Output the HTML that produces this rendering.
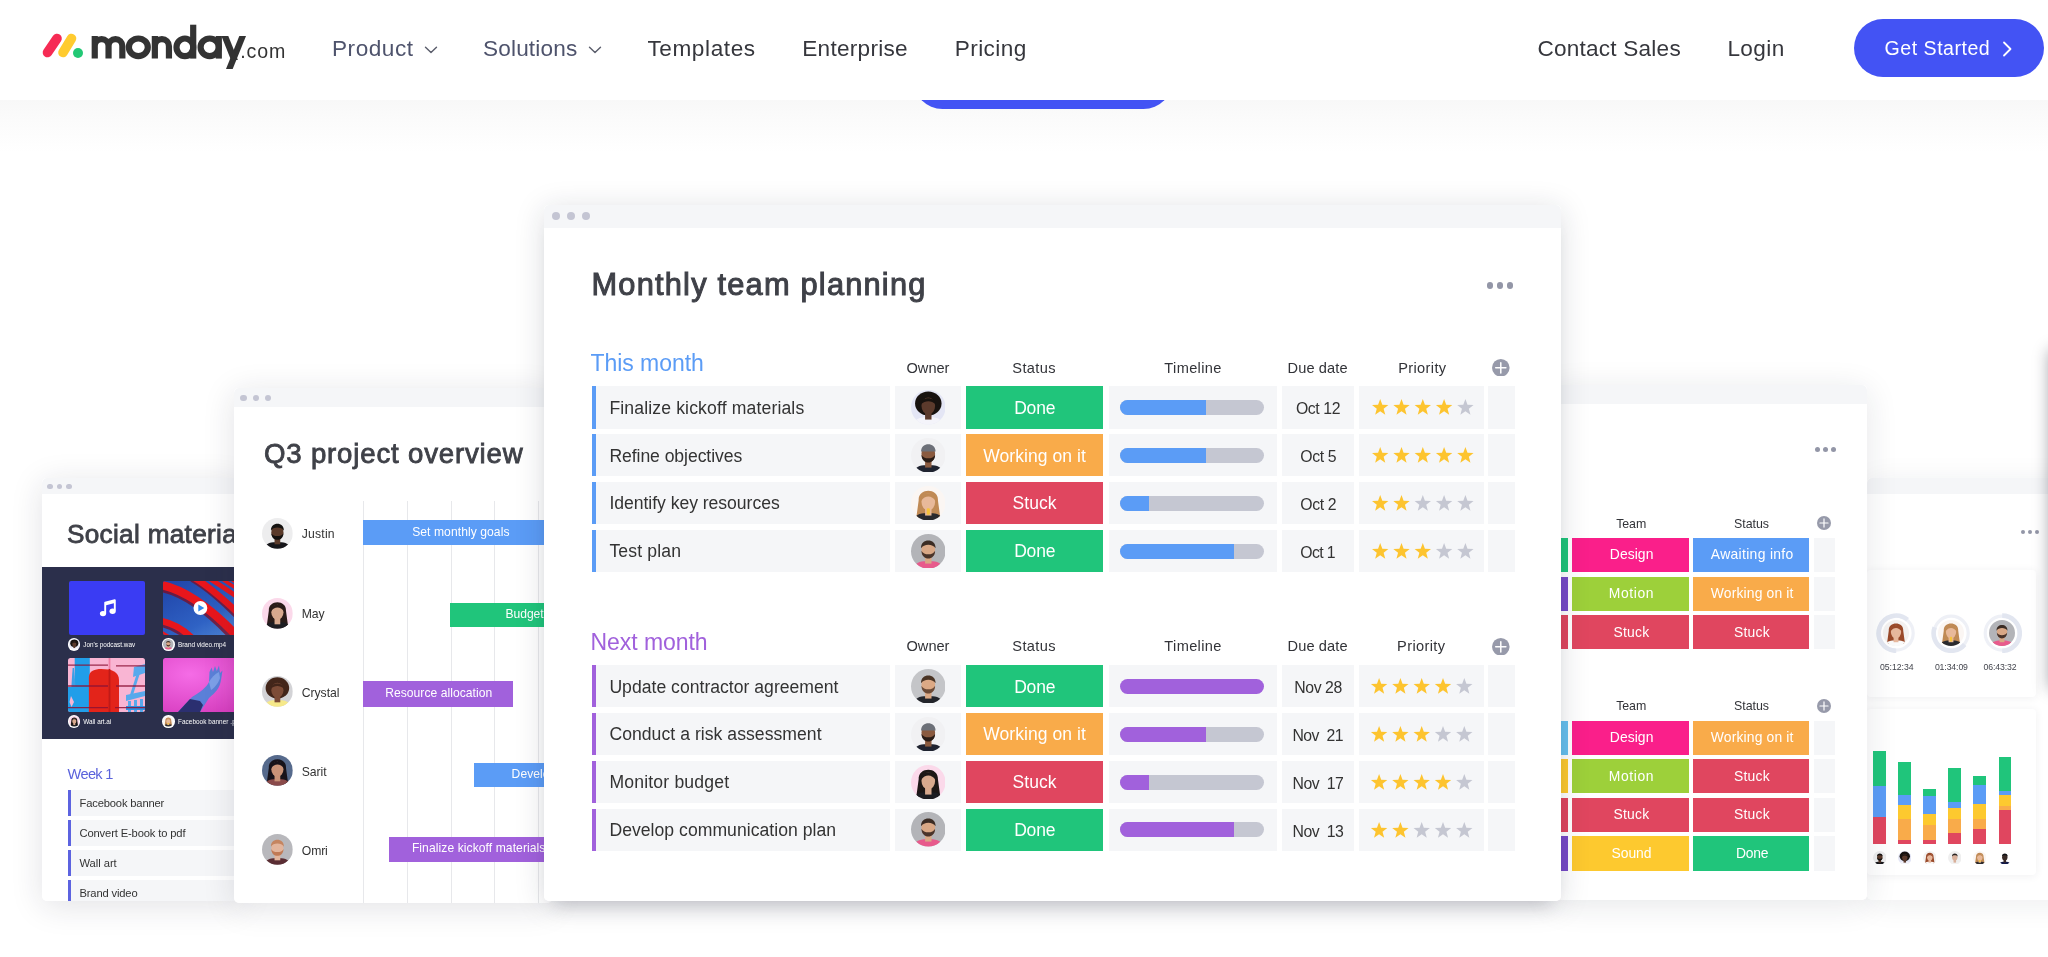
<!DOCTYPE html><html><head><meta charset="utf-8"><title>monday.com</title><style>
*{box-sizing:border-box;margin:0;padding:0}
html,body{width:2048px;height:957px;overflow:hidden;background:#fff}
body{font-family:"Liberation Sans",sans-serif;color:#333;-webkit-font-smoothing:antialiased}
#stage{will-change:transform;position:relative;width:2048px;height:957px;overflow:hidden;background:#fff}
.abs{position:absolute}
.t{position:absolute;white-space:nowrap;line-height:1}
#hero{position:absolute;left:0;top:100px;width:2048px;height:857px;
 background:linear-gradient(to bottom,#f8f8f8 0px,#fbfbfb 20px,#ffffff 52px)}
#nav{position:absolute;left:0;top:0;width:2048px;height:100px;background:#fff;z-index:50}
.nl{position:absolute;white-space:nowrap;line-height:1;font-size:23px;color:#323338;top:37px}
.card{position:absolute;border-radius:5px;box-shadow:0 5px 34px rgba(30,34,54,.19),0 0 2px rgba(30,34,54,.05)}
.card>.in{position:absolute;left:0;top:0;right:0;bottom:0;background:#fff;border-radius:5px;overflow:hidden}
.bar{position:absolute;left:0;top:0;right:0;background:#f5f6f8;border-radius:5px 5px 0 0}
.dot{position:absolute;border-radius:50%;background:#c4c5d3}
.cell{position:absolute;background:#f5f6f8}
.st{position:absolute;color:#fff;text-align:center;white-space:nowrap}
.hd{position:absolute;white-space:nowrap;line-height:1;color:#323338;text-align:center}
</style></head><body><div id="stage">
<div id="hero"></div>
<div class="abs" style="left:913px;top:50px;width:260px;height:58.5px;border-radius:30px;background:#4353f4"></div>
<div class="card" style="left:1867px;top:478px;width:300px;height:422px;z-index:1;box-shadow:0 4px 30px rgba(30,34,54,.08)"><div class="in">
<div class="bar" style="height:16px"></div>
<div class="abs" style="left:154.0px;top:51.6px;width:4.3px;height:4.3px;background:#9396a7;border-radius:50%"></div>
<div class="abs" style="left:160.9px;top:51.6px;width:4.3px;height:4.3px;background:#9396a7;border-radius:50%"></div>
<div class="abs" style="left:167.8px;top:51.6px;width:4.3px;height:4.3px;background:#9396a7;border-radius:50%"></div>
<div class="abs" style="left:0.0px;top:92.0px;width:168.5px;height:127.0px;background:#fff;border-radius:4px;box-shadow:0 1px 8px rgba(40,44,60,.07)"></div>
<div class="abs" style="left:0.0px;top:230.8px;width:168.5px;height:166.7px;background:#fff;border-radius:4px;box-shadow:0 1px 8px rgba(40,44,60,.07)"></div>
<svg class="abs" style="left:8.8px;top:134.5px" width="40.4" height="40.4" viewBox="0 0 40.4 40.4"><circle cx="20.2" cy="20.2" r="17.0" fill="none" stroke="#eef0f6" stroke-width="3.2"/><path d="M20.20 37.80 A17.6 17.6 0 1 1 31.51 6.72" fill="none" stroke="#e2e6f0" stroke-width="4.6"/></svg>
<svg class="abs" style="left:16.0px;top:141.7px" width="26.0" height="26.0" viewBox="-50 -50 100 100"><defs><clipPath id="c1"><circle r="50"/></clipPath></defs><g clip-path="url(#c1)"><rect x="-50" y="-50" width="100" height="100" fill="#f3f1f0"/><g transform="translate(0,3) scale(1.16)"><path d="M-24 -10 C-26 -42 26 -42 24 -10 L30 34 L-30 34 Z" fill="#9a4a2a"/><path d="M-40 52 C-38 22 -18 22 0 22 C18 22 38 22 40 52 Z" fill="#fafafa"/><rect x="-8" y="8" width="16" height="20" fill="#e7b89d"/><ellipse cx="0" cy="-6" rx="17" ry="21" fill="#e7b89d"/><path d="M-18 -8 C-20 -34 20 -34 18 -8 C10 -22 -8 -24 -18 -8 Z" fill="#9a4a2a"/></g></g></svg>
<div class="t" style="left:13.0px;top:185.4px;font-size:8.7px;letter-spacing:-0.03px;color:#43454d;">05:12:34</div>
<svg class="abs" style="left:64.1px;top:134.5px" width="40.4" height="40.4" viewBox="0 0 40.4 40.4"><circle cx="20.2" cy="20.2" r="17.0" fill="none" stroke="#eef0f6" stroke-width="3.2"/><path d="M33.68 31.51 A17.6 17.6 0 0 1 3.66 14.18" fill="none" stroke="#e2e6f0" stroke-width="4.6"/></svg>
<svg class="abs" style="left:71.3px;top:141.7px" width="26.0" height="26.0" viewBox="-50 -50 100 100"><defs><clipPath id="c2"><circle r="50"/></clipPath></defs><g clip-path="url(#c2)"><rect x="-50" y="-50" width="100" height="100" fill="#fbf6f3"/><g transform="translate(0,3) scale(1.16)"><path d="M-24 -10 C-26 -42 26 -42 24 -10 L30 34 L-30 34 Z" fill="#c08a55"/><path d="M-40 52 C-38 22 -18 22 0 22 C18 22 38 22 40 52 Z" fill="#2a2a2e"/><rect x="-8" y="8" width="16" height="20" fill="#e8b99a"/><ellipse cx="0" cy="-6" rx="17" ry="21" fill="#e8b99a"/><path d="M-18 -8 C-20 -34 20 -34 18 -8 C10 -22 -8 -24 -18 -8 Z" fill="#c08a55"/><rect x="-4" y="10" width="8" height="16" rx="3" fill="#f6c33a"/></g></g></svg>
<div class="t" style="left:67.9px;top:185.4px;font-size:8.7px;letter-spacing:-0.11px;color:#43454d;">01:34:09</div>
<svg class="abs" style="left:114.8px;top:134.5px" width="40.4" height="40.4" viewBox="0 0 40.4 40.4"><circle cx="20.2" cy="20.2" r="17.0" fill="none" stroke="#eef0f6" stroke-width="3.2"/><path d="M20.20 2.60 A17.6 17.6 0 0 1 20.20 37.80" fill="none" stroke="#e2e6f0" stroke-width="4.6"/></svg>
<svg class="abs" style="left:122.0px;top:141.7px" width="26.0" height="26.0" viewBox="-50 -50 100 100"><defs><clipPath id="c3"><circle r="50"/></clipPath></defs><g clip-path="url(#c3)"><rect x="-50" y="-50" width="100" height="100" fill="#b3b4b8"/><g transform="translate(0,3) scale(1.16)"><path d="M-40 52 C-38 22 -18 22 0 22 C18 22 38 22 40 52 Z" fill="#e85a8c"/><rect x="-8" y="8" width="16" height="20" fill="#d9a886"/><ellipse cx="0" cy="-6" rx="17" ry="21" fill="#d9a886"/><path d="M-17 -4 C-17 22 17 22 17 -4 C12 8 -12 8 -17 -4 Z" fill="#4a342a"/><path d="M-18 -10 C-20 -36 20 -36 18 -10 C12 -22 -12 -22 -18 -10 Z" fill="#3b2c24"/></g></g></svg>
<div class="t" style="left:116.6px;top:185.4px;font-size:8.7px;letter-spacing:-0.11px;color:#43454d;">06:43:32</div>
<div class="abs" style="left:6.3px;top:272.5px;width:12.3px;height:35.7px;background:#20c57b;"></div>
<div class="abs" style="left:6.3px;top:308.2px;width:12.3px;height:30.5px;background:#5b9cf6;"></div>
<div class="abs" style="left:6.3px;top:338.7px;width:12.3px;height:27.1px;background:#e0465f;"></div>
<svg class="abs" style="left:5.7px;top:372.8px" width="13.6" height="13.6" viewBox="-50 -50 100 100"><defs><clipPath id="c4"><circle r="50"/></clipPath></defs><g clip-path="url(#c4)"><rect x="-50" y="-50" width="100" height="100" fill="#ededee"/><g transform="translate(0,3) scale(1.16)"><path d="M-40 52 C-38 22 -18 22 0 22 C18 22 38 22 40 52 Z" fill="#16161a"/><rect x="-8" y="8" width="16" height="20" fill="#5a3a2a"/><ellipse cx="0" cy="-6" rx="17" ry="21" fill="#5a3a2a"/><path d="M-17 -4 C-17 22 17 22 17 -4 C12 8 -12 8 -17 -4 Z" fill="#141210"/><path d="M-18 -10 C-20 -36 20 -36 18 -10 C12 -22 -12 -22 -18 -10 Z" fill="#141210"/></g></g></svg>
<div class="abs" style="left:31.3px;top:283.6px;width:12.3px;height:33.4px;background:#20c57b;"></div>
<div class="abs" style="left:31.3px;top:317.0px;width:12.3px;height:10.2px;background:#5b9cf6;"></div>
<div class="abs" style="left:31.3px;top:327.2px;width:12.3px;height:13.5px;background:#fdc92f;"></div>
<div class="abs" style="left:31.3px;top:340.7px;width:12.3px;height:21.1px;background:#f9ab4a;"></div>
<div class="abs" style="left:31.3px;top:361.8px;width:12.3px;height:4.0px;background:#e0465f;"></div>
<svg class="abs" style="left:30.7px;top:372.8px" width="13.6" height="13.6" viewBox="-50 -50 100 100"><defs><clipPath id="c5"><circle r="50"/></clipPath></defs><g clip-path="url(#c5)"><rect x="-50" y="-50" width="100" height="100" fill="#e4e6f5"/><g transform="translate(0,3) scale(1.16)"><ellipse cx="0" cy="-12" rx="33" ry="30" fill="#17120f"/><path d="M-40 52 C-38 22 -18 22 0 22 C18 22 38 22 40 52 Z" fill="#f4f4fa"/><rect x="-8" y="8" width="16" height="20" fill="#5b3a2c"/><ellipse cx="0" cy="-6" rx="17" ry="21" fill="#5b3a2c"/><path d="M-18 -10 C-18 -30 18 -30 18 -10 C8 -20 -8 -20 -18 -10 Z" fill="#17120f"/></g></g></svg>
<div class="abs" style="left:56.3px;top:311.0px;width:12.3px;height:7.0px;background:#20c57b;"></div>
<div class="abs" style="left:56.3px;top:318.0px;width:12.3px;height:18.4px;background:#5b9cf6;"></div>
<div class="abs" style="left:56.3px;top:336.4px;width:12.3px;height:10.3px;background:#fdc92f;"></div>
<div class="abs" style="left:56.3px;top:346.7px;width:12.3px;height:15.1px;background:#f9ab4a;"></div>
<div class="abs" style="left:56.3px;top:361.8px;width:12.3px;height:4.0px;background:#e0465f;"></div>
<svg class="abs" style="left:55.7px;top:372.8px" width="13.6" height="13.6" viewBox="-50 -50 100 100"><defs><clipPath id="c6"><circle r="50"/></clipPath></defs><g clip-path="url(#c6)"><rect x="-50" y="-50" width="100" height="100" fill="#f3f1f0"/><g transform="translate(0,3) scale(1.16)"><path d="M-24 -10 C-26 -42 26 -42 24 -10 L30 34 L-30 34 Z" fill="#9a4a2a"/><path d="M-40 52 C-38 22 -18 22 0 22 C18 22 38 22 40 52 Z" fill="#fafafa"/><rect x="-8" y="8" width="16" height="20" fill="#e7b89d"/><ellipse cx="0" cy="-6" rx="17" ry="21" fill="#e7b89d"/><path d="M-18 -8 C-20 -34 20 -34 18 -8 C10 -22 -8 -24 -18 -8 Z" fill="#9a4a2a"/></g></g></svg>
<div class="abs" style="left:81.3px;top:290.3px;width:12.3px;height:33.7px;background:#20c57b;"></div>
<div class="abs" style="left:81.3px;top:324.0px;width:12.3px;height:6.4px;background:#5b9cf6;"></div>
<div class="abs" style="left:81.3px;top:330.4px;width:12.3px;height:10.3px;background:#fdc92f;"></div>
<div class="abs" style="left:81.3px;top:340.7px;width:12.3px;height:13.9px;background:#f9ab4a;"></div>
<div class="abs" style="left:81.3px;top:354.6px;width:12.3px;height:11.2px;background:#e0465f;"></div>
<svg class="abs" style="left:80.7px;top:372.8px" width="13.6" height="13.6" viewBox="-50 -50 100 100"><defs><clipPath id="c7"><circle r="50"/></clipPath></defs><g clip-path="url(#c7)"><rect x="-50" y="-50" width="100" height="100" fill="#efefef"/><g transform="translate(0,3) scale(1.16)"><path d="M-40 52 C-38 22 -18 22 0 22 C18 22 38 22 40 52 Z" fill="#f2f2f2"/><rect x="-8" y="8" width="16" height="20" fill="#d9b09a"/><ellipse cx="0" cy="-6" rx="17" ry="21" fill="#d9b09a"/><path d="M-18 -10 C-20 -36 20 -36 18 -10 C12 -22 -12 -22 -18 -10 Z" fill="#2a2422"/></g></g></svg>
<div class="abs" style="left:106.4px;top:297.5px;width:12.3px;height:9.5px;background:#20c57b;"></div>
<div class="abs" style="left:106.4px;top:307.0px;width:12.3px;height:19.0px;background:#5b9cf6;"></div>
<div class="abs" style="left:106.4px;top:326.0px;width:12.3px;height:14.7px;background:#fdc92f;"></div>
<div class="abs" style="left:106.4px;top:340.7px;width:12.3px;height:10.3px;background:#f9ab4a;"></div>
<div class="abs" style="left:106.4px;top:351.0px;width:12.3px;height:14.8px;background:#e0465f;"></div>
<svg class="abs" style="left:105.8px;top:372.8px" width="13.6" height="13.6" viewBox="-50 -50 100 100"><defs><clipPath id="c8"><circle r="50"/></clipPath></defs><g clip-path="url(#c8)"><rect x="-50" y="-50" width="100" height="100" fill="#fbf6f3"/><g transform="translate(0,3) scale(1.16)"><path d="M-24 -10 C-26 -42 26 -42 24 -10 L30 34 L-30 34 Z" fill="#c08a55"/><path d="M-40 52 C-38 22 -18 22 0 22 C18 22 38 22 40 52 Z" fill="#2a2a2e"/><rect x="-8" y="8" width="16" height="20" fill="#e8b99a"/><ellipse cx="0" cy="-6" rx="17" ry="21" fill="#e8b99a"/><path d="M-18 -8 C-20 -34 20 -34 18 -8 C10 -22 -8 -24 -18 -8 Z" fill="#c08a55"/><rect x="-4" y="10" width="8" height="16" rx="3" fill="#f6c33a"/></g></g></svg>
<div class="abs" style="left:131.7px;top:279.2px;width:12.3px;height:33.4px;background:#20c57b;"></div>
<div class="abs" style="left:131.7px;top:312.6px;width:12.3px;height:4.7px;background:#5b9cf6;"></div>
<div class="abs" style="left:131.7px;top:317.3px;width:12.3px;height:10.7px;background:#fdc92f;"></div>
<div class="abs" style="left:131.7px;top:328.0px;width:12.3px;height:4.4px;background:#f9ab4a;"></div>
<div class="abs" style="left:131.7px;top:332.4px;width:12.3px;height:33.4px;background:#e0465f;"></div>
<svg class="abs" style="left:131.1px;top:372.8px" width="13.6" height="13.6" viewBox="-50 -50 100 100"><defs><clipPath id="c9"><circle r="50"/></clipPath></defs><g clip-path="url(#c9)"><rect x="-50" y="-50" width="100" height="100" fill="#ffffff"/><g transform="translate(0,3) scale(1.16)"><path d="M-40 52 C-38 22 -18 22 0 22 C18 22 38 22 40 52 Z" fill="#121a4a"/><rect x="-8" y="8" width="16" height="20" fill="#3a2a26"/><ellipse cx="0" cy="-6" rx="17" ry="21" fill="#3a2a26"/><path d="M-18 -10 C-20 -36 20 -36 18 -10 C12 -22 -12 -22 -18 -10 Z" fill="#101014"/></g></g></svg>
</div></div>
<div class="card" style="left:42px;top:478px;width:200px;height:423px;z-index:1;box-shadow:0 5px 32px rgba(30,34,54,.13)"><div class="in">
<div class="bar" style="height:16px"></div>
<div class="dot" style="left:5.3px;top:5.6px;width:5.4px;height:5.4px"></div>
<div class="dot" style="left:14.8px;top:5.6px;width:5.4px;height:5.4px"></div>
<div class="dot" style="left:24.3px;top:5.6px;width:5.4px;height:5.4px"></div>
<div class="t" style="left:25.0px;top:43.1px;font-size:26.2px;letter-spacing:0.29px;color:#3f4148;-webkit-text-stroke:0.8px #3f4148;">Social materials</div>
<div class="abs" style="left:0.0px;top:89.1px;width:300.0px;height:172.2px;background:#2b2f4b;"></div>
<div class="abs" style="left:27.0px;top:102.9px;width:76.1px;height:53.7px;background:#3a3cf3;border-radius:2px"></div>
<svg class="abs" style="left:56.6px;top:120.0px" width="18" height="20" viewBox="0 0 18 20"><path d="M6.2 15.2 V4.6 L15.8 2.2 V12.8" fill="none" stroke="#fff" stroke-width="1.9" stroke-linejoin="round"/><path d="M6.2 4.6 L15.8 2.2 V5 L6.2 7.4Z" fill="#fff"/><ellipse cx="4" cy="15.6" rx="3.1" ry="2.7" fill="#fff"/><ellipse cx="13.6" cy="13.2" rx="3.1" ry="2.7" fill="#fff"/></svg>
<div class="abs" style="left:121.3px;top:102.9px;width:90px;height:53.7px;border-radius:2px;overflow:hidden"><svg width="90" height="54" viewBox="0 0 90 54"><defs><linearGradient id="bg2" x1="0" y1="0" x2="1" y2="1"><stop offset="0" stop-color="#1f43a8"/><stop offset=".6" stop-color="#2f62c4"/><stop offset="1" stop-color="#5a93dc"/></linearGradient></defs><rect width="90" height="54" fill="url(#bg2)"/><g fill="none" stroke="#7e0d22" opacity=".75"><path d="M-2 7 C 18 11 43 27 70 56" stroke-width="8"/><path d="M29 -2 C 43 6 57 18 74 35" stroke-width="6"/><path d="M-2 43 C 8 45 19 51 28 60" stroke-width="6"/></g><g fill="none" stroke="#e8161c"><path d="M-2 4 C 18 8 44 24 72 53" stroke-width="8.5"/><path d="M30 -4 C 44 4 58 16 76 33" stroke-width="6.6"/><path d="M44 -4 C 54 2 64 9 76 17" stroke-width="4.8"/><path d="M56 -4 C 62 0 68 4 76 9" stroke-width="3.4"/><path d="M65 -3 L 76 4" stroke-width="2"/><path d="M-2 40 C 8 42 20 48 30 58" stroke-width="6.6"/><path d="M-2 52 L 8 58" stroke-width="5"/></g><circle cx="37.4" cy="27" r="6.9" fill="#fff"/><path d="M35.3 23.4 L41.3 27 L35.3 30.6Z" fill="#2d8bf0"/></svg></div>
<div class="abs" style="left:26.4px;top:180.0px;width:76.7px;height:53.9px;border-radius:2.5px;overflow:hidden"><svg width="77" height="54" viewBox="0 0 77 54"><rect width="77" height="54" fill="#f9b5d3"/><path d="M6.7 0 H21.8 V54 H0 V29 H6.7Z" fill="#219ee9"/><path d="M4.6 10 L6 10 L7.6 29 L3.4 29Z" fill="#3c9fe6"/><path d="M3 38 L6 44 L3.5 49 L1.5 44Z" fill="#f9b5d3"/><path d="M20.9 54 V19 C20.9 13 27 11 33 11 C44 11 51 14 51 22 V54Z" fill="#e3241a"/><rect x="40.6" y="0" width="1.8" height="11" fill="#ef7fa6"/><rect x="40.6" y="11" width="1.8" height="43" fill="#c01a18"/><g fill="#58a9ec"><path d="M66 9 L77 6 V15 L65 19Z"/><path d="M69 15 L72 15 L64 40 L61 40Z"/><path d="M58 37 L77 33 V38 L58 43Z"/><path d="M60 43 H63 V54 H60Z M66 42 H69 V54 H66Z M72 41 H75 V54 H72Z"/><path d="M58 48 H77 V52 H58Z" fill="#2f8fe0"/></g><path d="M0 7.1 H40 M48 7.8 H77 M0 28 H40 M48 28 H77 M0 49.7 H40 M47 49.7 H77" stroke="#8c1236" stroke-width="1.3" opacity=".85"/></svg></div>
<div class="abs" style="left:121.3px;top:180.0px;width:90px;height:53.9px;border-radius:2.5px;overflow:hidden"><svg width="90" height="54" viewBox="0 0 90 54"><defs><radialGradient id="mg" cx="30%" cy="30%" r="85%"><stop offset="0" stop-color="#f56ce6"/><stop offset="1" stop-color="#d63cbe"/></radialGradient></defs><rect width="90" height="54" fill="url(#mg)"/><path d="M15 54 L29 39 C37 34 43 30 46 24 L46.5 14 L48.5 9.5 L50 14 L52 8 L53.8 13 L56 7.6 L57 15 L59.5 12.5 L58 22 C57 30 52 35 46 40 L37 54Z" fill="#5b80d8"/><path d="M15 54 L27 41 L37 43 L40 47 L37 54Z" fill="#2b2f70"/><path d="M46 24 C48 20 52 16 56 14 L57 20 C55 26 51 30 48 32Z" fill="#86a8ec" opacity=".8"/></svg></div>
<div class="abs" style="left:25.5px;top:160.0px;width:12.6px;height:12.6px;border-radius:50%;background:#fff"></div>
<svg class="abs" style="left:26.5px;top:161.0px" width="10.6" height="10.6" viewBox="-50 -50 100 100"><defs><clipPath id="c10"><circle r="50"/></clipPath></defs><g clip-path="url(#c10)"><rect x="-50" y="-50" width="100" height="100" fill="#e4e6f5"/><g transform="translate(0,3) scale(1.16)"><ellipse cx="0" cy="-12" rx="33" ry="30" fill="#17120f"/><path d="M-40 52 C-38 22 -18 22 0 22 C18 22 38 22 40 52 Z" fill="#f4f4fa"/><rect x="-8" y="8" width="16" height="20" fill="#5b3a2c"/><ellipse cx="0" cy="-6" rx="17" ry="21" fill="#5b3a2c"/><path d="M-18 -10 C-18 -30 18 -30 18 -10 C8 -20 -8 -20 -18 -10 Z" fill="#17120f"/></g></g></svg>
<div class="t" style="left:41.3px;top:163.5px;font-size:6.4px;letter-spacing:-0.01px;color:#fff;">Jon's podcast.wav</div>
<div class="abs" style="left:120.2px;top:160.0px;width:12.6px;height:12.6px;border-radius:50%;background:#fff"></div>
<svg class="abs" style="left:121.2px;top:161.0px" width="10.6" height="10.6" viewBox="-50 -50 100 100"><defs><clipPath id="c11"><circle r="50"/></clipPath></defs><g clip-path="url(#c11)"><rect x="-50" y="-50" width="100" height="100" fill="#b3b4b8"/><g transform="translate(0,3) scale(1.16)"><path d="M-40 52 C-38 22 -18 22 0 22 C18 22 38 22 40 52 Z" fill="#e85a8c"/><rect x="-8" y="8" width="16" height="20" fill="#d9a886"/><ellipse cx="0" cy="-6" rx="17" ry="21" fill="#d9a886"/><path d="M-17 -4 C-17 22 17 22 17 -4 C12 8 -12 8 -17 -4 Z" fill="#4a342a"/><path d="M-18 -10 C-20 -36 20 -36 18 -10 C12 -22 -12 -22 -18 -10 Z" fill="#3b2c24"/></g></g></svg>
<div class="t" style="left:136.0px;top:163.5px;font-size:6.4px;letter-spacing:-0.01px;color:#fff;">Brand video.mp4</div>
<div class="abs" style="left:25.5px;top:237.1px;width:12.6px;height:12.6px;border-radius:50%;background:#fff"></div>
<svg class="abs" style="left:26.5px;top:238.1px" width="10.6" height="10.6" viewBox="-50 -50 100 100"><defs><clipPath id="c12"><circle r="50"/></clipPath></defs><g clip-path="url(#c12)"><rect x="-50" y="-50" width="100" height="100" fill="#fbd9ea"/><g transform="translate(0,3) scale(1.16)"><path d="M-24 -10 C-26 -42 26 -42 24 -10 L30 34 L-30 34 Z" fill="#1d1716"/><path d="M-40 52 C-38 22 -18 22 0 22 C18 22 38 22 40 52 Z" fill="#1d1d22"/><rect x="-8" y="8" width="16" height="20" fill="#d8a98e"/><ellipse cx="0" cy="-6" rx="17" ry="21" fill="#d8a98e"/><path d="M-18 -8 C-20 -34 20 -34 18 -8 C10 -22 -8 -24 -18 -8 Z" fill="#1d1716"/></g></g></svg>
<div class="t" style="left:41.3px;top:240.6px;font-size:6.4px;letter-spacing:-0.02px;color:#fff;">Wall art.ai</div>
<div class="abs" style="left:120.2px;top:237.1px;width:12.6px;height:12.6px;border-radius:50%;background:#fff"></div>
<svg class="abs" style="left:121.2px;top:238.1px" width="10.6" height="10.6" viewBox="-50 -50 100 100"><defs><clipPath id="c13"><circle r="50"/></clipPath></defs><g clip-path="url(#c13)"><rect x="-50" y="-50" width="100" height="100" fill="#fbf6f3"/><g transform="translate(0,3) scale(1.16)"><path d="M-24 -10 C-26 -42 26 -42 24 -10 L30 34 L-30 34 Z" fill="#c08a55"/><path d="M-40 52 C-38 22 -18 22 0 22 C18 22 38 22 40 52 Z" fill="#2a2a2e"/><rect x="-8" y="8" width="16" height="20" fill="#e8b99a"/><ellipse cx="0" cy="-6" rx="17" ry="21" fill="#e8b99a"/><path d="M-18 -8 C-20 -34 20 -34 18 -8 C10 -22 -8 -24 -18 -8 Z" fill="#c08a55"/><rect x="-4" y="10" width="8" height="16" rx="3" fill="#f6c33a"/></g></g></svg>
<div class="t" style="left:136.0px;top:240.6px;font-size:6.4px;letter-spacing:0.05px;color:#fff;">Facebook banner .png</div>
<div class="t" style="left:25.6px;top:289.2px;font-size:14.6px;letter-spacing:-0.67px;color:#5a62dc;">Week 1</div>
<div class="abs" style="left:26.3px;top:312.0px;width:273.7px;height:26.1px;background:#f5f6f8;"></div>
<div class="abs" style="left:26.3px;top:312.0px;width:3.0px;height:26.1px;background:#5c63e0;"></div>
<div class="t" style="left:37.5px;top:320.0px;font-size:11.2px;letter-spacing:-0.16px;color:#333;">Facebook banner</div>
<div class="abs" style="left:26.3px;top:342.0px;width:273.7px;height:26.1px;background:#f5f6f8;"></div>
<div class="abs" style="left:26.3px;top:342.0px;width:3.0px;height:26.1px;background:#5c63e0;"></div>
<div class="t" style="left:37.5px;top:350.1px;font-size:11.2px;letter-spacing:-0.14px;color:#333;">Convert E-book to pdf</div>
<div class="abs" style="left:26.3px;top:372.1px;width:273.7px;height:26.1px;background:#f5f6f8;"></div>
<div class="abs" style="left:26.3px;top:372.1px;width:3.0px;height:26.1px;background:#5c63e0;"></div>
<div class="t" style="left:37.5px;top:380.1px;font-size:11.2px;letter-spacing:-0.04px;color:#333;">Wall art</div>
<div class="abs" style="left:26.3px;top:402.1px;width:273.7px;height:26.1px;background:#f5f6f8;"></div>
<div class="abs" style="left:26.3px;top:402.1px;width:3.0px;height:26.1px;background:#5c63e0;"></div>
<div class="t" style="left:37.5px;top:410.2px;font-size:11.2px;letter-spacing:-0.16px;color:#333;">Brand video</div>
</div></div>
<div class="card" style="left:1552px;top:384.5px;width:315px;height:515.5px;z-index:2;box-shadow:0 5px 32px rgba(30,34,54,.11)"><div class="in">
<div class="bar" style="height:19.5px"></div>
<div class="abs" style="left:262.9px;top:62.6px;width:5.0px;height:5.0px;background:#9396a7;border-radius:50%"></div>
<div class="abs" style="left:270.9px;top:62.6px;width:5.0px;height:5.0px;background:#9396a7;border-radius:50%"></div>
<div class="abs" style="left:278.8px;top:62.6px;width:5.0px;height:5.0px;background:#9396a7;border-radius:50%"></div>
<div class="t" style="left:64.2px;top:133.0px;font-size:12.4px;letter-spacing:-0.08px;color:#323338;">Team</div>
<div class="t" style="left:182.0px;top:133.0px;font-size:12.4px;letter-spacing:-0.03px;color:#323338;">Status</div>
<svg class="abs" style="left:265.3px;top:131.5px" width="14" height="14" viewBox="0 0 14 14"><circle cx="7" cy="7" r="7" fill="#979aaa"/><path d="M7 2.94 V11.06 M2.94 7 H11.06" stroke="#fff" stroke-width="1.19" stroke-linecap="round"/></svg>
<div class="abs" style="left:3.0px;top:153.7px;width:13.3px;height:34.2px;background:#20c57b;"></div>
<div class="abs" style="left:20.2px;top:153.7px;width:116.5px;height:34.2px;background:#fa1f8a;"></div>
<div class="t" style="left:57.8px;top:163.9px;font-size:13.9px;letter-spacing:0.07px;color:#fff;">Design</div>
<div class="abs" style="left:141.0px;top:153.7px;width:116.4px;height:34.2px;background:#5b9cf6;"></div>
<div class="t" style="left:158.8px;top:163.9px;font-size:13.9px;letter-spacing:0.33px;color:#fff;">Awaiting info</div>
<div class="abs" style="left:261.6px;top:153.7px;width:21.2px;height:34.2px;background:#f5f6f8;"></div>
<div class="abs" style="left:3.0px;top:192.2px;width:13.3px;height:34.2px;background:#774ac8;"></div>
<div class="abs" style="left:20.2px;top:192.2px;width:116.5px;height:34.2px;background:#9dd03a;"></div>
<div class="t" style="left:56.8px;top:202.5px;font-size:13.9px;letter-spacing:0.61px;color:#fff;">Motion</div>
<div class="abs" style="left:141.0px;top:192.2px;width:116.4px;height:34.2px;background:#f9ab4a;"></div>
<div class="t" style="left:158.8px;top:202.5px;font-size:13.9px;letter-spacing:0.15px;color:#fff;">Working on it</div>
<div class="abs" style="left:261.6px;top:192.2px;width:21.2px;height:34.2px;background:#f5f6f8;"></div>
<div class="abs" style="left:3.0px;top:230.8px;width:13.3px;height:34.2px;background:#e0465f;"></div>
<div class="abs" style="left:20.2px;top:230.8px;width:116.5px;height:34.2px;background:#e0465f;"></div>
<div class="t" style="left:61.4px;top:241.0px;font-size:13.9px;letter-spacing:0.25px;color:#fff;">Stuck</div>
<div class="abs" style="left:141.0px;top:230.8px;width:116.4px;height:34.2px;background:#e0465f;"></div>
<div class="t" style="left:182.1px;top:241.0px;font-size:13.9px;letter-spacing:0.19px;color:#fff;">Stuck</div>
<div class="abs" style="left:261.6px;top:230.8px;width:21.2px;height:34.2px;background:#f5f6f8;"></div>
<div class="t" style="left:64.2px;top:315.5px;font-size:12.4px;letter-spacing:-0.08px;color:#323338;">Team</div>
<div class="t" style="left:182.0px;top:315.5px;font-size:12.4px;letter-spacing:-0.03px;color:#323338;">Status</div>
<svg class="abs" style="left:265.3px;top:314.0px" width="14" height="14" viewBox="0 0 14 14"><circle cx="7" cy="7" r="7" fill="#979aaa"/><path d="M7 2.94 V11.06 M2.94 7 H11.06" stroke="#fff" stroke-width="1.19" stroke-linecap="round"/></svg>
<div class="abs" style="left:3.0px;top:336.2px;width:13.3px;height:34.2px;background:#66c0ee;"></div>
<div class="abs" style="left:20.2px;top:336.2px;width:116.5px;height:34.2px;background:#fa1f8a;"></div>
<div class="t" style="left:57.8px;top:346.4px;font-size:13.9px;letter-spacing:0.07px;color:#fff;">Design</div>
<div class="abs" style="left:141.0px;top:336.2px;width:116.4px;height:34.2px;background:#f9ab4a;"></div>
<div class="t" style="left:158.8px;top:346.4px;font-size:13.9px;letter-spacing:0.15px;color:#fff;">Working on it</div>
<div class="abs" style="left:261.6px;top:336.2px;width:21.2px;height:34.2px;background:#f5f6f8;"></div>
<div class="abs" style="left:3.0px;top:374.8px;width:13.3px;height:34.2px;background:#fdc92f;"></div>
<div class="abs" style="left:20.2px;top:374.8px;width:116.5px;height:34.2px;background:#9dd03a;"></div>
<div class="t" style="left:56.8px;top:385.0px;font-size:13.9px;letter-spacing:0.61px;color:#fff;">Motion</div>
<div class="abs" style="left:141.0px;top:374.8px;width:116.4px;height:34.2px;background:#e0465f;"></div>
<div class="t" style="left:182.1px;top:385.0px;font-size:13.9px;letter-spacing:0.19px;color:#fff;">Stuck</div>
<div class="abs" style="left:261.6px;top:374.8px;width:21.2px;height:34.2px;background:#f5f6f8;"></div>
<div class="abs" style="left:3.0px;top:413.3px;width:13.3px;height:34.2px;background:#e0465f;"></div>
<div class="abs" style="left:20.2px;top:413.3px;width:116.5px;height:34.2px;background:#e0465f;"></div>
<div class="t" style="left:61.4px;top:423.5px;font-size:13.9px;letter-spacing:0.25px;color:#fff;">Stuck</div>
<div class="abs" style="left:141.0px;top:413.3px;width:116.4px;height:34.2px;background:#e0465f;"></div>
<div class="t" style="left:182.1px;top:423.5px;font-size:13.9px;letter-spacing:0.19px;color:#fff;">Stuck</div>
<div class="abs" style="left:261.6px;top:413.3px;width:21.2px;height:34.2px;background:#f5f6f8;"></div>
<div class="abs" style="left:3.0px;top:451.9px;width:13.3px;height:34.2px;background:#774ac8;"></div>
<div class="abs" style="left:20.2px;top:451.9px;width:116.5px;height:34.2px;background:#fdc92f;"></div>
<div class="t" style="left:59.5px;top:462.1px;font-size:13.9px;letter-spacing:-0.04px;color:#fff;">Sound</div>
<div class="abs" style="left:141.0px;top:451.9px;width:116.4px;height:34.2px;background:#20c57b;"></div>
<div class="t" style="left:184.0px;top:462.1px;font-size:13.9px;letter-spacing:-0.23px;color:#fff;">Done</div>
<div class="abs" style="left:261.6px;top:451.9px;width:21.2px;height:34.2px;background:#f5f6f8;"></div>
</div></div>
<div class="card" style="left:234px;top:388px;width:318px;height:514.5px;z-index:2;box-shadow:0 5px 32px rgba(30,34,54,.13)"><div class="in">
<div class="bar" style="height:19px"></div>
<div class="dot" style="left:6.3px;top:6.6px;width:6.4px;height:6.4px"></div>
<div class="dot" style="left:18.5px;top:6.6px;width:6.4px;height:6.4px"></div>
<div class="dot" style="left:30.7px;top:6.6px;width:6.4px;height:6.4px"></div>
<div class="t" style="left:30.0px;top:52.2px;font-size:27.6px;letter-spacing:0.82px;color:#3f4148;-webkit-text-stroke:0.85px #3f4148;">Q3 project overview</div>
<div class="abs" style="left:128.5px;top:113.0px;width:1.4px;height:402.0px;background:#e7e8eb;"></div>
<div class="abs" style="left:172.6px;top:113.0px;width:1.4px;height:402.0px;background:#e7e8eb;"></div>
<div class="abs" style="left:216.6px;top:113.0px;width:1.4px;height:402.0px;background:#e7e8eb;"></div>
<div class="abs" style="left:259.8px;top:113.0px;width:1.4px;height:402.0px;background:#e7e8eb;"></div>
<div class="abs" style="left:303.7px;top:113.0px;width:1.4px;height:402.0px;background:#e7e8eb;"></div>
<svg class="abs" style="left:28.0px;top:130.0px" width="30.8" height="30.8" viewBox="-50 -50 100 100"><defs><clipPath id="c14"><circle r="50"/></clipPath></defs><g clip-path="url(#c14)"><rect x="-50" y="-50" width="100" height="100" fill="#ededee"/><g transform="translate(0,3) scale(1.16)"><path d="M-40 52 C-38 22 -18 22 0 22 C18 22 38 22 40 52 Z" fill="#16161a"/><rect x="-8" y="8" width="16" height="20" fill="#5a3a2a"/><ellipse cx="0" cy="-6" rx="17" ry="21" fill="#5a3a2a"/><path d="M-17 -4 C-17 22 17 22 17 -4 C12 8 -12 8 -17 -4 Z" fill="#141210"/><path d="M-18 -10 C-20 -36 20 -36 18 -10 C12 -22 -12 -22 -18 -10 Z" fill="#141210"/></g></g></svg>
<div class="t" style="left:67.8px;top:140.3px;font-size:12.2px;letter-spacing:0.20px;color:#333;">Justin</div>
<div class="abs" style="left:129.2px;top:131.8px;width:196.8px;height:24.9px;background:#5b9cf6;"></div>
<div class="t" style="left:178.2px;top:138.0px;font-size:12.1px;letter-spacing:0.07px;color:#fff;">Set monthly goals</div>
<svg class="abs" style="left:28.0px;top:210.1px" width="30.8" height="30.8" viewBox="-50 -50 100 100"><defs><clipPath id="c15"><circle r="50"/></clipPath></defs><g clip-path="url(#c15)"><rect x="-50" y="-50" width="100" height="100" fill="#fbd9ea"/><g transform="translate(0,3) scale(1.16)"><path d="M-24 -10 C-26 -42 26 -42 24 -10 L30 34 L-30 34 Z" fill="#2a1c18"/><path d="M-40 52 C-38 22 -18 22 0 22 C18 22 38 22 40 52 Z" fill="#1d1d22"/><rect x="-8" y="8" width="16" height="20" fill="#d8a98e"/><ellipse cx="0" cy="-6" rx="17" ry="21" fill="#d8a98e"/><path d="M-18 -8 C-20 -34 20 -34 18 -8 C10 -22 -8 -24 -18 -8 Z" fill="#2a1c18"/></g></g></svg>
<div class="t" style="left:67.8px;top:220.3px;font-size:12.2px;letter-spacing:-0.08px;color:#333;">May</div>
<div class="abs" style="left:216.0px;top:215.0px;width:110.0px;height:24.0px;background:#20c57b;"></div>
<div class="t" style="left:271.6px;top:219.6px;font-size:12.1px;letter-spacing:-0.06px;color:#fff;">Budget</div>
<svg class="abs" style="left:28.0px;top:288.4px" width="30.8" height="30.8" viewBox="-50 -50 100 100"><defs><clipPath id="c16"><circle r="50"/></clipPath></defs><g clip-path="url(#c16)"><rect x="-50" y="-50" width="100" height="100" fill="#d3d3d6"/><g transform="translate(0,3) scale(1.16)"><ellipse cx="0" cy="-12" rx="33" ry="30" fill="#43261a"/><path d="M-40 52 C-38 22 -18 22 0 22 C18 22 38 22 40 52 Z" fill="#f6e98a"/><rect x="-8" y="8" width="16" height="20" fill="#7d4c37"/><ellipse cx="0" cy="-6" rx="17" ry="21" fill="#7d4c37"/><path d="M-18 -10 C-18 -30 18 -30 18 -10 C8 -20 -8 -20 -18 -10 Z" fill="#43261a"/></g></g></svg>
<div class="t" style="left:67.8px;top:299.0px;font-size:12.2px;letter-spacing:-0.05px;color:#333;">Crystal</div>
<div class="abs" style="left:129.2px;top:293.4px;width:150.2px;height:25.3px;background:#a161dc;"></div>
<div class="t" style="left:151.2px;top:298.8px;font-size:12.1px;letter-spacing:0.04px;color:#fff;">Resource allocation</div>
<svg class="abs" style="left:28.0px;top:367.2px" width="30.8" height="30.8" viewBox="-50 -50 100 100"><defs><clipPath id="c17"><circle r="50"/></clipPath></defs><g clip-path="url(#c17)"><rect x="-50" y="-50" width="100" height="100" fill="#566a8c"/><g transform="translate(0,3) scale(1.16)"><path d="M-24 -10 C-26 -42 26 -42 24 -10 L30 34 L-30 34 Z" fill="#17131a"/><path d="M-40 52 C-38 22 -18 22 0 22 C18 22 38 22 40 52 Z" fill="#8a4a4a"/><rect x="-8" y="8" width="16" height="20" fill="#c99378"/><ellipse cx="0" cy="-6" rx="17" ry="21" fill="#c99378"/><path d="M-18 -8 C-20 -34 20 -34 18 -8 C10 -22 -8 -24 -18 -8 Z" fill="#17131a"/></g></g></svg>
<div class="t" style="left:67.8px;top:377.9px;font-size:12.2px;letter-spacing:-0.08px;color:#333;">Sarit</div>
<div class="abs" style="left:240.1px;top:374.8px;width:85.9px;height:24.0px;background:#5b9cf6;"></div>
<div class="t" style="left:277.6px;top:380.0px;font-size:12.1px;letter-spacing:0.06px;color:#fff;">Develop plan</div>
<svg class="abs" style="left:28.0px;top:445.8px" width="30.8" height="30.8" viewBox="-50 -50 100 100"><defs><clipPath id="c18"><circle r="50"/></clipPath></defs><g clip-path="url(#c18)"><rect x="-50" y="-50" width="100" height="100" fill="#b8b8bc"/><g transform="translate(0,3) scale(1.16)"><path d="M-40 52 C-38 22 -18 22 0 22 C18 22 38 22 40 52 Z" fill="#5a2d33"/><rect x="-8" y="8" width="16" height="20" fill="#e3b59c"/><ellipse cx="0" cy="-6" rx="17" ry="21" fill="#e3b59c"/><path d="M-17 -4 C-17 22 17 22 17 -4 C12 8 -12 8 -17 -4 Z" fill="#c07a55"/><path d="M-18 -10 C-20 -36 20 -36 18 -10 C12 -22 -12 -22 -18 -10 Z" fill="#c58560"/></g></g></svg>
<div class="t" style="left:67.8px;top:456.5px;font-size:12.2px;letter-spacing:-0.13px;color:#333;">Omri</div>
<div class="abs" style="left:154.6px;top:448.6px;width:171.4px;height:25.0px;background:#a161dc;"></div>
<div class="t" style="left:177.9px;top:453.6px;font-size:12.1px;letter-spacing:0.08px;color:#fff;">Finalize kickoff materials</div>
</div></div>
<div class="card" style="left:544px;top:205px;width:1016.5px;height:696px;z-index:5;box-shadow:0 4px 30px rgba(30,34,54,.15),0 16px 18px -12px rgba(30,34,54,.22)"><div class="in">
<div class="bar" style="height:23px"></div>
<div class="dot" style="left:8.0px;top:6.9px;width:8px;height:8px"></div>
<div class="dot" style="left:23.2px;top:6.9px;width:8px;height:8px"></div>
<div class="dot" style="left:38.4px;top:6.9px;width:8px;height:8px"></div>
<div class="t" style="left:47.5px;top:64.9px;font-size:30.8px;letter-spacing:1.20px;color:#3f4148;-webkit-text-stroke:1.0px #3f4148;">Monthly team planning</div>
<div class="abs" style="left:942.9px;top:77.4px;width:6.2px;height:6.2px;background:#9396a7;border-radius:50%"></div>
<div class="abs" style="left:952.7px;top:77.4px;width:6.2px;height:6.2px;background:#9396a7;border-radius:50%"></div>
<div class="abs" style="left:962.5px;top:77.4px;width:6.2px;height:6.2px;background:#9396a7;border-radius:50%"></div>
<div class="t" style="left:46.5px;top:147.2px;font-size:23px;letter-spacing:-0.05px;color:#5b9cf6;">This month</div>
<div class="t" style="left:362.5px;top:155.5px;font-size:14.6px;letter-spacing:-0.00px;color:#323338;">Owner</div>
<div class="t" style="left:468.3px;top:155.5px;font-size:14.6px;letter-spacing:0.38px;color:#323338;">Status</div>
<div class="t" style="left:620.3px;top:155.5px;font-size:14.6px;letter-spacing:0.36px;color:#323338;">Timeline</div>
<div class="t" style="left:743.5px;top:155.5px;font-size:14.6px;letter-spacing:0.13px;color:#323338;">Due date</div>
<div class="t" style="left:854.2px;top:155.5px;font-size:14.6px;letter-spacing:0.36px;color:#323338;">Priority</div>
<svg class="abs" style="left:948.0px;top:153.7px" width="17.6" height="17.6" viewBox="0 0 17.6 17.6"><circle cx="8.8" cy="8.8" r="8.8" fill="#979aaa"/><path d="M8.8 3.70 V13.90 M3.70 8.8 H13.90" stroke="#fff" stroke-width="1.50" stroke-linecap="round"/></svg>
<div class="abs" style="left:47.8px;top:181.2px;width:298.2px;height:42.4px;background:#f5f6f8;"></div>
<div class="abs" style="left:47.8px;top:181.2px;width:4.0px;height:42.4px;background:#5b9cf6;"></div>
<div class="t" style="left:65.4px;top:194.7px;font-size:17.6px;letter-spacing:0.14px;color:#333;">Finalize kickoff materials</div>
<div class="abs" style="left:351.0px;top:181.2px;width:66.0px;height:42.4px;background:#f5f6f8;"></div>
<svg class="abs" style="left:366.7px;top:185.1px" width="34.6" height="34.6" viewBox="-50 -50 100 100"><defs><clipPath id="c19"><circle r="50"/></clipPath></defs><g clip-path="url(#c19)"><rect x="-50" y="-50" width="100" height="100" fill="#e4e6f5"/><g transform="translate(0,3) scale(1.16)"><ellipse cx="0" cy="-12" rx="33" ry="30" fill="#17120f"/><path d="M-40 52 C-38 22 -18 22 0 22 C18 22 38 22 40 52 Z" fill="#f4f4fa"/><rect x="-8" y="8" width="16" height="20" fill="#5b3a2c"/><ellipse cx="0" cy="-6" rx="17" ry="21" fill="#5b3a2c"/><path d="M-18 -10 C-18 -30 18 -30 18 -10 C8 -20 -8 -20 -18 -10 Z" fill="#17120f"/></g></g></svg>
<div class="abs" style="left:421.7px;top:181.2px;width:137.0px;height:42.4px;background:#20c57b;"></div>
<div class="t" style="left:470.2px;top:194.8px;font-size:17.5px;letter-spacing:-0.21px;color:#fff;">Done</div>
<div class="abs" style="left:565.0px;top:181.2px;width:167.8px;height:42.4px;background:#f5f6f8;"></div>
<div class="abs" style="left:575.8px;top:195.0px;width:144.5px;height:15px;border-radius:8px;background:#c5c7d2;overflow:hidden"><div style="width:86.3px;height:15px;background:#5b9cf6"></div></div>
<div class="abs" style="left:738.0px;top:181.2px;width:71.5px;height:42.4px;background:#f5f6f8;"></div>
<div class="t" style="left:752.0px;top:196.2px;font-size:15.8px;letter-spacing:-0.42px;color:#333;white-space:pre">Oct 12</div>
<div class="abs" style="left:814.6px;top:181.2px;width:125.4px;height:42.4px;background:#f5f6f8;"></div>
<svg class="abs" style="left:814.6px;top:181.2px" width="125" height="42" viewBox="0 0 125 42"><polygon points="21.20,13.10 23.32,18.78 29.38,19.04 24.64,22.82 26.25,28.66 21.20,25.31 16.15,28.66 17.76,22.82 13.02,19.04 19.08,18.78" fill="#fdc42f"/><polygon points="42.50,13.10 44.62,18.78 50.68,19.04 45.94,22.82 47.55,28.66 42.50,25.31 37.45,28.66 39.06,22.82 34.32,19.04 40.38,18.78" fill="#fdc42f"/><polygon points="63.80,13.10 65.92,18.78 71.98,19.04 67.24,22.82 68.85,28.66 63.80,25.31 58.75,28.66 60.36,22.82 55.62,19.04 61.68,18.78" fill="#fdc42f"/><polygon points="85.10,13.10 87.22,18.78 93.28,19.04 88.54,22.82 90.15,28.66 85.10,25.31 80.05,28.66 81.66,22.82 76.92,19.04 82.98,18.78" fill="#fdc42f"/><polygon points="106.40,13.10 108.52,18.78 114.58,19.04 109.84,22.82 111.45,28.66 106.40,25.31 101.35,28.66 102.96,22.82 98.22,19.04 104.28,18.78" fill="#c5c7d2"/></svg>
<div class="abs" style="left:944.0px;top:181.2px;width:27.0px;height:42.4px;background:#f5f6f8;"></div>
<div class="abs" style="left:47.8px;top:229.0px;width:298.2px;height:42.4px;background:#f5f6f8;"></div>
<div class="abs" style="left:47.8px;top:229.0px;width:4.0px;height:42.4px;background:#5b9cf6;"></div>
<div class="t" style="left:65.4px;top:242.5px;font-size:17.6px;letter-spacing:-0.07px;color:#333;">Refine objectives</div>
<div class="abs" style="left:351.0px;top:229.0px;width:66.0px;height:42.4px;background:#f5f6f8;"></div>
<svg class="abs" style="left:366.7px;top:232.9px" width="34.6" height="34.6" viewBox="-50 -50 100 100"><defs><clipPath id="c20"><circle r="50"/></clipPath></defs><g clip-path="url(#c20)"><rect x="-50" y="-50" width="100" height="100" fill="#f1f1f3"/><g transform="translate(0,3) scale(1.16)"><path d="M-40 52 C-38 22 -18 22 0 22 C18 22 38 22 40 52 Z" fill="#1f2330"/><rect x="-8" y="8" width="16" height="20" fill="#8a5a3f"/><ellipse cx="0" cy="-6" rx="17" ry="21" fill="#8a5a3f"/><path d="M-17 -4 C-17 22 17 22 17 -4 C12 8 -12 8 -17 -4 Z" fill="#2a1d17"/><path d="M-18 -12 C-18 -36 18 -36 18 -12 Z" fill="#6d7078"/></g></g></svg>
<div class="abs" style="left:421.7px;top:229.0px;width:137.0px;height:42.4px;background:#f9ab4a;"></div>
<div class="t" style="left:439.2px;top:242.6px;font-size:17.5px;letter-spacing:0.08px;color:#fff;">Working on it</div>
<div class="abs" style="left:565.0px;top:229.0px;width:167.8px;height:42.4px;background:#f5f6f8;"></div>
<div class="abs" style="left:575.8px;top:242.8px;width:144.5px;height:15px;border-radius:8px;background:#c5c7d2;overflow:hidden"><div style="width:86.3px;height:15px;background:#5b9cf6"></div></div>
<div class="abs" style="left:738.0px;top:229.0px;width:71.5px;height:42.4px;background:#f5f6f8;"></div>
<div class="t" style="left:756.3px;top:244.1px;font-size:15.8px;letter-spacing:-0.37px;color:#333;white-space:pre">Oct 5</div>
<div class="abs" style="left:814.6px;top:229.0px;width:125.4px;height:42.4px;background:#f5f6f8;"></div>
<svg class="abs" style="left:814.6px;top:229.0px" width="125" height="42" viewBox="0 0 125 42"><polygon points="21.20,13.10 23.32,18.78 29.38,19.04 24.64,22.82 26.25,28.66 21.20,25.31 16.15,28.66 17.76,22.82 13.02,19.04 19.08,18.78" fill="#fdc42f"/><polygon points="42.50,13.10 44.62,18.78 50.68,19.04 45.94,22.82 47.55,28.66 42.50,25.31 37.45,28.66 39.06,22.82 34.32,19.04 40.38,18.78" fill="#fdc42f"/><polygon points="63.80,13.10 65.92,18.78 71.98,19.04 67.24,22.82 68.85,28.66 63.80,25.31 58.75,28.66 60.36,22.82 55.62,19.04 61.68,18.78" fill="#fdc42f"/><polygon points="85.10,13.10 87.22,18.78 93.28,19.04 88.54,22.82 90.15,28.66 85.10,25.31 80.05,28.66 81.66,22.82 76.92,19.04 82.98,18.78" fill="#fdc42f"/><polygon points="106.40,13.10 108.52,18.78 114.58,19.04 109.84,22.82 111.45,28.66 106.40,25.31 101.35,28.66 102.96,22.82 98.22,19.04 104.28,18.78" fill="#fdc42f"/></svg>
<div class="abs" style="left:944.0px;top:229.0px;width:27.0px;height:42.4px;background:#f5f6f8;"></div>
<div class="abs" style="left:47.8px;top:276.9px;width:298.2px;height:42.4px;background:#f5f6f8;"></div>
<div class="abs" style="left:47.8px;top:276.9px;width:4.0px;height:42.4px;background:#5b9cf6;"></div>
<div class="t" style="left:65.4px;top:290.4px;font-size:17.6px;letter-spacing:-0.04px;color:#333;">Identify key resources</div>
<div class="abs" style="left:351.0px;top:276.9px;width:66.0px;height:42.4px;background:#f5f6f8;"></div>
<svg class="abs" style="left:366.7px;top:280.8px" width="34.6" height="34.6" viewBox="-50 -50 100 100"><defs><clipPath id="c21"><circle r="50"/></clipPath></defs><g clip-path="url(#c21)"><rect x="-50" y="-50" width="100" height="100" fill="#fbf6f3"/><g transform="translate(0,3) scale(1.16)"><path d="M-24 -10 C-26 -42 26 -42 24 -10 L30 34 L-30 34 Z" fill="#c08a55"/><path d="M-40 52 C-38 22 -18 22 0 22 C18 22 38 22 40 52 Z" fill="#2a2a2e"/><rect x="-8" y="8" width="16" height="20" fill="#e8b99a"/><ellipse cx="0" cy="-6" rx="17" ry="21" fill="#e8b99a"/><path d="M-18 -8 C-20 -34 20 -34 18 -8 C10 -22 -8 -24 -18 -8 Z" fill="#c08a55"/><rect x="-4" y="10" width="8" height="16" rx="3" fill="#f6c33a"/></g></g></svg>
<div class="abs" style="left:421.7px;top:276.9px;width:137.0px;height:42.4px;background:#e0465f;"></div>
<div class="t" style="left:468.5px;top:290.4px;font-size:17.5px;letter-spacing:0.05px;color:#fff;">Stuck</div>
<div class="abs" style="left:565.0px;top:276.9px;width:167.8px;height:42.4px;background:#f5f6f8;"></div>
<div class="abs" style="left:575.8px;top:290.7px;width:144.5px;height:15px;border-radius:8px;background:#c5c7d2;overflow:hidden"><div style="width:28.9px;height:15px;background:#5b9cf6"></div></div>
<div class="abs" style="left:738.0px;top:276.9px;width:71.5px;height:42.4px;background:#f5f6f8;"></div>
<div class="t" style="left:756.3px;top:291.9px;font-size:15.8px;letter-spacing:-0.37px;color:#333;white-space:pre">Oct 2</div>
<div class="abs" style="left:814.6px;top:276.9px;width:125.4px;height:42.4px;background:#f5f6f8;"></div>
<svg class="abs" style="left:814.6px;top:276.9px" width="125" height="42" viewBox="0 0 125 42"><polygon points="21.20,13.10 23.32,18.78 29.38,19.04 24.64,22.82 26.25,28.66 21.20,25.31 16.15,28.66 17.76,22.82 13.02,19.04 19.08,18.78" fill="#fdc42f"/><polygon points="42.50,13.10 44.62,18.78 50.68,19.04 45.94,22.82 47.55,28.66 42.50,25.31 37.45,28.66 39.06,22.82 34.32,19.04 40.38,18.78" fill="#fdc42f"/><polygon points="63.80,13.10 65.92,18.78 71.98,19.04 67.24,22.82 68.85,28.66 63.80,25.31 58.75,28.66 60.36,22.82 55.62,19.04 61.68,18.78" fill="#c5c7d2"/><polygon points="85.10,13.10 87.22,18.78 93.28,19.04 88.54,22.82 90.15,28.66 85.10,25.31 80.05,28.66 81.66,22.82 76.92,19.04 82.98,18.78" fill="#c5c7d2"/><polygon points="106.40,13.10 108.52,18.78 114.58,19.04 109.84,22.82 111.45,28.66 106.40,25.31 101.35,28.66 102.96,22.82 98.22,19.04 104.28,18.78" fill="#c5c7d2"/></svg>
<div class="abs" style="left:944.0px;top:276.9px;width:27.0px;height:42.4px;background:#f5f6f8;"></div>
<div class="abs" style="left:47.8px;top:324.7px;width:298.2px;height:42.4px;background:#f5f6f8;"></div>
<div class="abs" style="left:47.8px;top:324.7px;width:4.0px;height:42.4px;background:#5b9cf6;"></div>
<div class="t" style="left:65.4px;top:338.2px;font-size:17.6px;letter-spacing:0.15px;color:#333;">Test plan</div>
<div class="abs" style="left:351.0px;top:324.7px;width:66.0px;height:42.4px;background:#f5f6f8;"></div>
<svg class="abs" style="left:366.7px;top:328.6px" width="34.6" height="34.6" viewBox="-50 -50 100 100"><defs><clipPath id="c22"><circle r="50"/></clipPath></defs><g clip-path="url(#c22)"><rect x="-50" y="-50" width="100" height="100" fill="#b3b4b8"/><g transform="translate(0,3) scale(1.16)"><path d="M-40 52 C-38 22 -18 22 0 22 C18 22 38 22 40 52 Z" fill="#e85a8c"/><rect x="-8" y="8" width="16" height="20" fill="#d9a886"/><ellipse cx="0" cy="-6" rx="17" ry="21" fill="#d9a886"/><path d="M-17 -4 C-17 22 17 22 17 -4 C12 8 -12 8 -17 -4 Z" fill="#4a342a"/><path d="M-18 -10 C-20 -36 20 -36 18 -10 C12 -22 -12 -22 -18 -10 Z" fill="#3b2c24"/></g></g></svg>
<div class="abs" style="left:421.7px;top:324.7px;width:137.0px;height:42.4px;background:#20c57b;"></div>
<div class="t" style="left:470.2px;top:338.3px;font-size:17.5px;letter-spacing:-0.21px;color:#fff;">Done</div>
<div class="abs" style="left:565.0px;top:324.7px;width:167.8px;height:42.4px;background:#f5f6f8;"></div>
<div class="abs" style="left:575.8px;top:338.5px;width:144.5px;height:15px;border-radius:8px;background:#c5c7d2;overflow:hidden"><div style="width:114.2px;height:15px;background:#5b9cf6"></div></div>
<div class="abs" style="left:738.0px;top:324.7px;width:71.5px;height:42.4px;background:#f5f6f8;"></div>
<div class="t" style="left:756.3px;top:339.7px;font-size:15.8px;letter-spacing:-0.61px;color:#333;white-space:pre">Oct 1</div>
<div class="abs" style="left:814.6px;top:324.7px;width:125.4px;height:42.4px;background:#f5f6f8;"></div>
<svg class="abs" style="left:814.6px;top:324.7px" width="125" height="42" viewBox="0 0 125 42"><polygon points="21.20,13.10 23.32,18.78 29.38,19.04 24.64,22.82 26.25,28.66 21.20,25.31 16.15,28.66 17.76,22.82 13.02,19.04 19.08,18.78" fill="#fdc42f"/><polygon points="42.50,13.10 44.62,18.78 50.68,19.04 45.94,22.82 47.55,28.66 42.50,25.31 37.45,28.66 39.06,22.82 34.32,19.04 40.38,18.78" fill="#fdc42f"/><polygon points="63.80,13.10 65.92,18.78 71.98,19.04 67.24,22.82 68.85,28.66 63.80,25.31 58.75,28.66 60.36,22.82 55.62,19.04 61.68,18.78" fill="#fdc42f"/><polygon points="85.10,13.10 87.22,18.78 93.28,19.04 88.54,22.82 90.15,28.66 85.10,25.31 80.05,28.66 81.66,22.82 76.92,19.04 82.98,18.78" fill="#c5c7d2"/><polygon points="106.40,13.10 108.52,18.78 114.58,19.04 109.84,22.82 111.45,28.66 106.40,25.31 101.35,28.66 102.96,22.82 98.22,19.04 104.28,18.78" fill="#c5c7d2"/></svg>
<div class="abs" style="left:944.0px;top:324.7px;width:27.0px;height:42.4px;background:#f5f6f8;"></div>
<div class="t" style="left:46.5px;top:426.0px;font-size:23px;letter-spacing:-0.06px;color:#a161dc;">Next month</div>
<div class="t" style="left:362.5px;top:434.3px;font-size:14.6px;letter-spacing:-0.00px;color:#323338;">Owner</div>
<div class="t" style="left:468.3px;top:434.3px;font-size:14.6px;letter-spacing:0.38px;color:#323338;">Status</div>
<div class="t" style="left:620.3px;top:434.3px;font-size:14.6px;letter-spacing:0.36px;color:#323338;">Timeline</div>
<div class="t" style="left:743.5px;top:434.3px;font-size:14.6px;letter-spacing:0.13px;color:#323338;">Due date</div>
<div class="t" style="left:853.1px;top:434.3px;font-size:14.6px;letter-spacing:0.36px;color:#323338;">Priority</div>
<svg class="abs" style="left:948.0px;top:432.5px" width="17.6" height="17.6" viewBox="0 0 17.6 17.6"><circle cx="8.8" cy="8.8" r="8.8" fill="#979aaa"/><path d="M8.8 3.70 V13.90 M3.70 8.8 H13.90" stroke="#fff" stroke-width="1.50" stroke-linecap="round"/></svg>
<div class="abs" style="left:47.8px;top:460.0px;width:298.2px;height:42.4px;background:#f5f6f8;"></div>
<div class="abs" style="left:47.8px;top:460.0px;width:4.0px;height:42.4px;background:#a161dc;"></div>
<div class="t" style="left:65.4px;top:473.5px;font-size:17.6px;letter-spacing:0.01px;color:#333;">Update contractor agreement</div>
<div class="abs" style="left:351.0px;top:460.0px;width:66.0px;height:42.4px;background:#f5f6f8;"></div>
<svg class="abs" style="left:366.7px;top:463.9px" width="34.6" height="34.6" viewBox="-50 -50 100 100"><defs><clipPath id="c23"><circle r="50"/></clipPath></defs><g clip-path="url(#c23)"><rect x="-50" y="-50" width="100" height="100" fill="#c4c5c8"/><g transform="translate(0,3) scale(1.16)"><path d="M-40 52 C-38 22 -18 22 0 22 C18 22 38 22 40 52 Z" fill="#23252b"/><rect x="-8" y="8" width="16" height="20" fill="#dca985"/><ellipse cx="0" cy="-6" rx="17" ry="21" fill="#dca985"/><path d="M-17 -4 C-17 22 17 22 17 -4 C12 8 -12 8 -17 -4 Z" fill="#6b4a36"/><path d="M-18 -10 C-20 -36 20 -36 18 -10 C12 -22 -12 -22 -18 -10 Z" fill="#4a3424"/></g></g></svg>
<div class="abs" style="left:421.7px;top:460.0px;width:137.0px;height:42.4px;background:#20c57b;"></div>
<div class="t" style="left:470.2px;top:473.6px;font-size:17.5px;letter-spacing:-0.21px;color:#fff;">Done</div>
<div class="abs" style="left:565.0px;top:460.0px;width:167.8px;height:42.4px;background:#f5f6f8;"></div>
<div class="abs" style="left:575.8px;top:473.8px;width:144.5px;height:15px;border-radius:8px;background:#c5c7d2;overflow:hidden"><div style="width:144.5px;height:15px;background:#a161dc"></div></div>
<div class="abs" style="left:738.0px;top:460.0px;width:71.5px;height:42.4px;background:#f5f6f8;"></div>
<div class="t" style="left:750.3px;top:475.0px;font-size:15.8px;letter-spacing:-0.43px;color:#333;white-space:pre">Nov 28</div>
<div class="abs" style="left:814.6px;top:460.0px;width:125.4px;height:42.4px;background:#f5f6f8;"></div>
<svg class="abs" style="left:814.6px;top:460.0px" width="125" height="42" viewBox="0 0 125 42"><polygon points="20.10,13.10 22.22,18.78 28.28,19.04 23.54,22.82 25.15,28.66 20.10,25.31 15.05,28.66 16.66,22.82 11.92,19.04 17.98,18.78" fill="#fdc42f"/><polygon points="41.40,13.10 43.52,18.78 49.58,19.04 44.84,22.82 46.45,28.66 41.40,25.31 36.35,28.66 37.96,22.82 33.22,19.04 39.28,18.78" fill="#fdc42f"/><polygon points="62.70,13.10 64.82,18.78 70.88,19.04 66.14,22.82 67.75,28.66 62.70,25.31 57.65,28.66 59.26,22.82 54.52,19.04 60.58,18.78" fill="#fdc42f"/><polygon points="84.00,13.10 86.12,18.78 92.18,19.04 87.44,22.82 89.05,28.66 84.00,25.31 78.95,28.66 80.56,22.82 75.82,19.04 81.88,18.78" fill="#fdc42f"/><polygon points="105.30,13.10 107.42,18.78 113.48,19.04 108.74,22.82 110.35,28.66 105.30,25.31 100.25,28.66 101.86,22.82 97.12,19.04 103.18,18.78" fill="#c5c7d2"/></svg>
<div class="abs" style="left:944.0px;top:460.0px;width:27.0px;height:42.4px;background:#f5f6f8;"></div>
<div class="abs" style="left:47.8px;top:507.8px;width:298.2px;height:42.4px;background:#f5f6f8;"></div>
<div class="abs" style="left:47.8px;top:507.8px;width:4.0px;height:42.4px;background:#a161dc;"></div>
<div class="t" style="left:65.4px;top:521.3px;font-size:17.6px;letter-spacing:0.04px;color:#333;">Conduct a risk assessment</div>
<div class="abs" style="left:351.0px;top:507.8px;width:66.0px;height:42.4px;background:#f5f6f8;"></div>
<svg class="abs" style="left:366.7px;top:511.7px" width="34.6" height="34.6" viewBox="-50 -50 100 100"><defs><clipPath id="c24"><circle r="50"/></clipPath></defs><g clip-path="url(#c24)"><rect x="-50" y="-50" width="100" height="100" fill="#f1f1f3"/><g transform="translate(0,3) scale(1.16)"><path d="M-40 52 C-38 22 -18 22 0 22 C18 22 38 22 40 52 Z" fill="#1f2330"/><rect x="-8" y="8" width="16" height="20" fill="#8a5a3f"/><ellipse cx="0" cy="-6" rx="17" ry="21" fill="#8a5a3f"/><path d="M-17 -4 C-17 22 17 22 17 -4 C12 8 -12 8 -17 -4 Z" fill="#2a1d17"/><path d="M-18 -12 C-18 -36 18 -36 18 -12 Z" fill="#6d7078"/></g></g></svg>
<div class="abs" style="left:421.7px;top:507.8px;width:137.0px;height:42.4px;background:#f9ab4a;"></div>
<div class="t" style="left:439.2px;top:521.4px;font-size:17.5px;letter-spacing:0.08px;color:#fff;">Working on it</div>
<div class="abs" style="left:565.0px;top:507.8px;width:167.8px;height:42.4px;background:#f5f6f8;"></div>
<div class="abs" style="left:575.8px;top:521.6px;width:144.5px;height:15px;border-radius:8px;background:#c5c7d2;overflow:hidden"><div style="width:86.3px;height:15px;background:#a161dc"></div></div>
<div class="abs" style="left:738.0px;top:507.8px;width:71.5px;height:42.4px;background:#f5f6f8;"></div>
<div class="t" style="left:748.5px;top:522.9px;font-size:15.8px;letter-spacing:-0.56px;color:#333;white-space:pre">Nov  21</div>
<div class="abs" style="left:814.6px;top:507.8px;width:125.4px;height:42.4px;background:#f5f6f8;"></div>
<svg class="abs" style="left:814.6px;top:507.8px" width="125" height="42" viewBox="0 0 125 42"><polygon points="20.10,13.10 22.22,18.78 28.28,19.04 23.54,22.82 25.15,28.66 20.10,25.31 15.05,28.66 16.66,22.82 11.92,19.04 17.98,18.78" fill="#fdc42f"/><polygon points="41.40,13.10 43.52,18.78 49.58,19.04 44.84,22.82 46.45,28.66 41.40,25.31 36.35,28.66 37.96,22.82 33.22,19.04 39.28,18.78" fill="#fdc42f"/><polygon points="62.70,13.10 64.82,18.78 70.88,19.04 66.14,22.82 67.75,28.66 62.70,25.31 57.65,28.66 59.26,22.82 54.52,19.04 60.58,18.78" fill="#fdc42f"/><polygon points="84.00,13.10 86.12,18.78 92.18,19.04 87.44,22.82 89.05,28.66 84.00,25.31 78.95,28.66 80.56,22.82 75.82,19.04 81.88,18.78" fill="#c5c7d2"/><polygon points="105.30,13.10 107.42,18.78 113.48,19.04 108.74,22.82 110.35,28.66 105.30,25.31 100.25,28.66 101.86,22.82 97.12,19.04 103.18,18.78" fill="#c5c7d2"/></svg>
<div class="abs" style="left:944.0px;top:507.8px;width:27.0px;height:42.4px;background:#f5f6f8;"></div>
<div class="abs" style="left:47.8px;top:555.7px;width:298.2px;height:42.4px;background:#f5f6f8;"></div>
<div class="abs" style="left:47.8px;top:555.7px;width:4.0px;height:42.4px;background:#a161dc;"></div>
<div class="t" style="left:65.4px;top:569.2px;font-size:17.6px;letter-spacing:0.18px;color:#333;">Monitor budget</div>
<div class="abs" style="left:351.0px;top:555.7px;width:66.0px;height:42.4px;background:#f5f6f8;"></div>
<svg class="abs" style="left:366.7px;top:559.6px" width="34.6" height="34.6" viewBox="-50 -50 100 100"><defs><clipPath id="c25"><circle r="50"/></clipPath></defs><g clip-path="url(#c25)"><rect x="-50" y="-50" width="100" height="100" fill="#fbd9ea"/><g transform="translate(0,3) scale(1.16)"><path d="M-24 -10 C-26 -42 26 -42 24 -10 L30 34 L-30 34 Z" fill="#1d1716"/><path d="M-40 52 C-38 22 -18 22 0 22 C18 22 38 22 40 52 Z" fill="#1d1d22"/><rect x="-8" y="8" width="16" height="20" fill="#d8a98e"/><ellipse cx="0" cy="-6" rx="17" ry="21" fill="#d8a98e"/><path d="M-18 -8 C-20 -34 20 -34 18 -8 C10 -22 -8 -24 -18 -8 Z" fill="#1d1716"/></g></g></svg>
<div class="abs" style="left:421.7px;top:555.7px;width:137.0px;height:42.4px;background:#e0465f;"></div>
<div class="t" style="left:468.5px;top:569.2px;font-size:17.5px;letter-spacing:0.05px;color:#fff;">Stuck</div>
<div class="abs" style="left:565.0px;top:555.7px;width:167.8px;height:42.4px;background:#f5f6f8;"></div>
<div class="abs" style="left:575.8px;top:569.5px;width:144.5px;height:15px;border-radius:8px;background:#c5c7d2;overflow:hidden"><div style="width:28.9px;height:15px;background:#a161dc"></div></div>
<div class="abs" style="left:738.0px;top:555.7px;width:71.5px;height:42.4px;background:#f5f6f8;"></div>
<div class="t" style="left:748.5px;top:570.7px;font-size:15.8px;letter-spacing:-0.51px;color:#333;white-space:pre">Nov  17</div>
<div class="abs" style="left:814.6px;top:555.7px;width:125.4px;height:42.4px;background:#f5f6f8;"></div>
<svg class="abs" style="left:814.6px;top:555.7px" width="125" height="42" viewBox="0 0 125 42"><polygon points="20.10,13.10 22.22,18.78 28.28,19.04 23.54,22.82 25.15,28.66 20.10,25.31 15.05,28.66 16.66,22.82 11.92,19.04 17.98,18.78" fill="#fdc42f"/><polygon points="41.40,13.10 43.52,18.78 49.58,19.04 44.84,22.82 46.45,28.66 41.40,25.31 36.35,28.66 37.96,22.82 33.22,19.04 39.28,18.78" fill="#fdc42f"/><polygon points="62.70,13.10 64.82,18.78 70.88,19.04 66.14,22.82 67.75,28.66 62.70,25.31 57.65,28.66 59.26,22.82 54.52,19.04 60.58,18.78" fill="#fdc42f"/><polygon points="84.00,13.10 86.12,18.78 92.18,19.04 87.44,22.82 89.05,28.66 84.00,25.31 78.95,28.66 80.56,22.82 75.82,19.04 81.88,18.78" fill="#fdc42f"/><polygon points="105.30,13.10 107.42,18.78 113.48,19.04 108.74,22.82 110.35,28.66 105.30,25.31 100.25,28.66 101.86,22.82 97.12,19.04 103.18,18.78" fill="#c5c7d2"/></svg>
<div class="abs" style="left:944.0px;top:555.7px;width:27.0px;height:42.4px;background:#f5f6f8;"></div>
<div class="abs" style="left:47.8px;top:603.5px;width:298.2px;height:42.4px;background:#f5f6f8;"></div>
<div class="abs" style="left:47.8px;top:603.5px;width:4.0px;height:42.4px;background:#a161dc;"></div>
<div class="t" style="left:65.4px;top:617.0px;font-size:17.6px;letter-spacing:0.03px;color:#333;">Develop communication plan</div>
<div class="abs" style="left:351.0px;top:603.5px;width:66.0px;height:42.4px;background:#f5f6f8;"></div>
<svg class="abs" style="left:366.7px;top:607.4px" width="34.6" height="34.6" viewBox="-50 -50 100 100"><defs><clipPath id="c26"><circle r="50"/></clipPath></defs><g clip-path="url(#c26)"><rect x="-50" y="-50" width="100" height="100" fill="#b3b4b8"/><g transform="translate(0,3) scale(1.16)"><path d="M-40 52 C-38 22 -18 22 0 22 C18 22 38 22 40 52 Z" fill="#e85a8c"/><rect x="-8" y="8" width="16" height="20" fill="#d9a886"/><ellipse cx="0" cy="-6" rx="17" ry="21" fill="#d9a886"/><path d="M-17 -4 C-17 22 17 22 17 -4 C12 8 -12 8 -17 -4 Z" fill="#4a342a"/><path d="M-18 -10 C-20 -36 20 -36 18 -10 C12 -22 -12 -22 -18 -10 Z" fill="#3b2c24"/></g></g></svg>
<div class="abs" style="left:421.7px;top:603.5px;width:137.0px;height:42.4px;background:#20c57b;"></div>
<div class="t" style="left:470.2px;top:617.1px;font-size:17.5px;letter-spacing:-0.21px;color:#fff;">Done</div>
<div class="abs" style="left:565.0px;top:603.5px;width:167.8px;height:42.4px;background:#f5f6f8;"></div>
<div class="abs" style="left:575.8px;top:617.3px;width:144.5px;height:15px;border-radius:8px;background:#c5c7d2;overflow:hidden"><div style="width:114.2px;height:15px;background:#a161dc"></div></div>
<div class="abs" style="left:738.0px;top:603.5px;width:71.5px;height:42.4px;background:#f5f6f8;"></div>
<div class="t" style="left:748.5px;top:618.5px;font-size:15.8px;letter-spacing:-0.51px;color:#333;white-space:pre">Nov  13</div>
<div class="abs" style="left:814.6px;top:603.5px;width:125.4px;height:42.4px;background:#f5f6f8;"></div>
<svg class="abs" style="left:814.6px;top:603.5px" width="125" height="42" viewBox="0 0 125 42"><polygon points="20.10,13.10 22.22,18.78 28.28,19.04 23.54,22.82 25.15,28.66 20.10,25.31 15.05,28.66 16.66,22.82 11.92,19.04 17.98,18.78" fill="#fdc42f"/><polygon points="41.40,13.10 43.52,18.78 49.58,19.04 44.84,22.82 46.45,28.66 41.40,25.31 36.35,28.66 37.96,22.82 33.22,19.04 39.28,18.78" fill="#fdc42f"/><polygon points="62.70,13.10 64.82,18.78 70.88,19.04 66.14,22.82 67.75,28.66 62.70,25.31 57.65,28.66 59.26,22.82 54.52,19.04 60.58,18.78" fill="#c5c7d2"/><polygon points="84.00,13.10 86.12,18.78 92.18,19.04 87.44,22.82 89.05,28.66 84.00,25.31 78.95,28.66 80.56,22.82 75.82,19.04 81.88,18.78" fill="#c5c7d2"/><polygon points="105.30,13.10 107.42,18.78 113.48,19.04 108.74,22.82 110.35,28.66 105.30,25.31 100.25,28.66 101.86,22.82 97.12,19.04 103.18,18.78" fill="#c5c7d2"/></svg>
<div class="abs" style="left:944.0px;top:603.5px;width:27.0px;height:42.4px;background:#f5f6f8;"></div>
</div></div>
<div class="abs" style="left:2051px;top:352px;width:20px;height:335px;z-index:4;box-shadow:0 0 16px 2px rgba(20,24,40,.38)"></div>
<div id="nav">
<svg class="abs" style="left:38px;top:28px" width="50" height="36" viewBox="38 28 50 36"><line x1="47.5" y1="52.5" x2="57" y2="38.5" stroke="#f62b54" stroke-width="9.6" stroke-linecap="round"/><line x1="63" y1="52.5" x2="71.5" y2="38.5" stroke="#ffcb2f" stroke-width="9.6" stroke-linecap="round"/><circle cx="78" cy="53" r="5" fill="#22c875"/></svg>
<svg class="abs" style="left:88px;top:20px" width="162" height="54" viewBox="88 20 162 54"><g fill="none" stroke="#333" stroke-width="6.2"><path d="M94.75 58.6 V36 M94.75 46.1 a6.9 6.9 0 0 1 13.8 0 V58.6 M108.55 46.1 a6.9 6.9 0 0 1 13.8 0 V58.6"/><ellipse cx="138.35" cy="47.3" rx="9.45" ry="8.8"/><path d="M154.85 58.6 V36 M154.85 46.2 a7.05 7.05 0 0 1 14.1 0 V58.6"/><ellipse cx="184.9" cy="47.3" rx="8.4" ry="8.8"/><path d="M193.2 24.7 V58.6"/><ellipse cx="209.7" cy="47.3" rx="9.1" ry="8.8"/><path d="M218.8 36 V58.6"/></g><g fill="#333"><path d="M239.3 36 H246 L232.7 69.1 H226Z"/><path d="M221.4 36 H228.3 L237.9 60 L231 60Z"/></g></svg>
<div class="t" style="left:240.2px;top:42.2px;font-size:19.6px;letter-spacing:0.91px;color:#333;">.com</div>
<div class="t" style="left:332.0px;top:38.4px;font-size:22.6px;letter-spacing:0.53px;color:#4e536c;">Product</div>
<svg class="abs" style="left:423.6px;top:44.6px" width="14" height="10" viewBox="0 0 14 10"><path d="M1.5 2.2 L7 7.6 L12.5 2.2" fill="none" stroke="#5a5d6b" stroke-width="1.4" stroke-linecap="round" stroke-linejoin="round"/></svg>
<div class="t" style="left:483.0px;top:38.4px;font-size:22.6px;letter-spacing:0.16px;color:#4e536c;">Solutions</div>
<svg class="abs" style="left:588.2px;top:44.6px" width="14" height="10" viewBox="0 0 14 10"><path d="M1.5 2.2 L7 7.6 L12.5 2.2" fill="none" stroke="#5a5d6b" stroke-width="1.4" stroke-linecap="round" stroke-linejoin="round"/></svg>
<div class="t" style="left:647.4px;top:38.4px;font-size:22.6px;letter-spacing:0.60px;color:#36373d;">Templates</div>
<div class="t" style="left:802.2px;top:38.4px;font-size:22.6px;letter-spacing:0.28px;color:#36373d;">Enterprise</div>
<div class="t" style="left:954.8px;top:38.4px;font-size:22.6px;letter-spacing:0.39px;color:#36373d;">Pricing</div>
<div class="t" style="left:1537.4px;top:38.4px;font-size:22.6px;letter-spacing:0.22px;color:#36373d;">Contact Sales</div>
<div class="t" style="left:1727.4px;top:38.4px;font-size:22.6px;letter-spacing:0.38px;color:#36373d;">Login</div>
<div class="abs" style="left:1854px;top:19px;width:190px;height:58px;border-radius:29px;background:#4353f4"></div>
<div class="t" style="left:1884.6px;top:38.6px;font-size:19.6px;letter-spacing:0.49px;color:#fff;">Get Started</div>
<svg class="abs" style="left:2000px;top:40px" width="14" height="18" viewBox="0 0 14 18"><path d="M4 2.5 L10.5 9 L4 15.5" fill="none" stroke="#fff" stroke-width="1.8" stroke-linecap="round" stroke-linejoin="round"/></svg>
</div>
</div></body></html>
